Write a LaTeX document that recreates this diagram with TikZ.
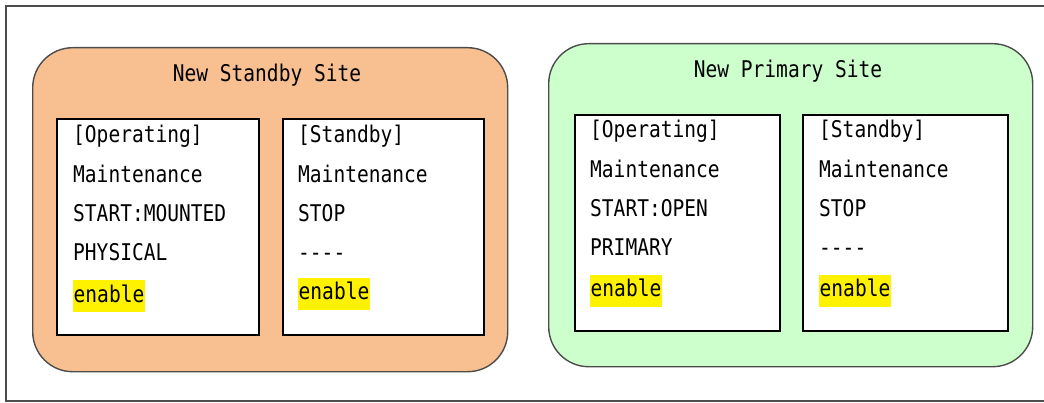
\documentclass[tikz,border=0pt]{standalone}
\usepackage{fontspec}
\usepackage{xcolor}
\usepackage{tikz}
\usetikzlibrary{positioning}

\newfontfamily\gothic{DejaVu Sans Mono}[FakeStretch=0.85]
\definecolor{standbyfill}{HTML}{F8C090}
\definecolor{primaryfill}{HTML}{CCFFCC}

\tikzset{
  site/.style={draw=black!70, line width=1.4pt, rounded corners=40pt, anchor=north west},
  panel/.style={draw, line width=1.8pt, fill=white, anchor=north west, minimum height=216pt},
  rowtext/.style={anchor=base west, inner sep=0pt},
  hl/.style={rowtext, fill=yellow, inner xsep=0.5pt, text height=22pt, text depth=10pt},
}

\begin{document}
\begin{tikzpicture}[x=1pt, y=-1pt, font={\gothic\fontsize{23}{27}\selectfont}]
    \useasboundingbox (0,0) rectangle (1044,403);

    % Frame
    \draw[black!70, line width=1.6pt] (1050,6) -- (6,6) -- (6,401) -- (1050,401);

    % Two sites
    \node[site, fill=standbyfill, minimum width=475pt, minimum height=324pt] (stby) at (32,47) {};
    \node[site, fill=primaryfill, minimum width=484pt, minimum height=323pt] (prim) at (548,43) {};
    \node (stbytitle) at (267,75) {New Standby Site};
    \node (primtitle) at (788,71) {New Primary Site};

    % Panels
    \node[panel, minimum width=202pt] (sop) at (56,118) {};
    \node[panel, minimum width=201pt] (ssb) at (282,118) {};
    \node[panel, minimum width=205pt] (pop) at (574,114) {};
    \node[panel, minimum width=205pt] (psb) at (802,114) {};

    % Panel rows
    \foreach \t [count=\i] in {{[Operating]},Maintenance,START:MOUNTED,PHYSICAL}
        \node[rowtext] (sop\i) at (73,{143+39.3*(\i-1)}) {\t};
    \foreach \t [count=\i] in {{[Standby]},Maintenance,STOP,----}
        \node[rowtext] (ssb\i) at (298,{143+39.3*(\i-1)}) {\t};
    \foreach \t [count=\i] in {{[Operating]},Maintenance,START:OPEN,PRIMARY}
        \node[rowtext] (pop\i) at (590,{138+39.3*(\i-1)}) {\t};
    \foreach \t [count=\i] in {{[Standby]},Maintenance,STOP,----}
        \node[rowtext] (psb\i) at (819,{138+39.3*(\i-1)}) {\t};

    % Highlighted flags
    \node[hl] (sopen) at (73,302) {enable};
    \node[hl] (ssben) at (298,300) {enable};
    \node[hl] (popen) at (590,297) {enable};
    \node[hl] (psben) at (819,297) {enable};
\end{tikzpicture}
\end{document}
